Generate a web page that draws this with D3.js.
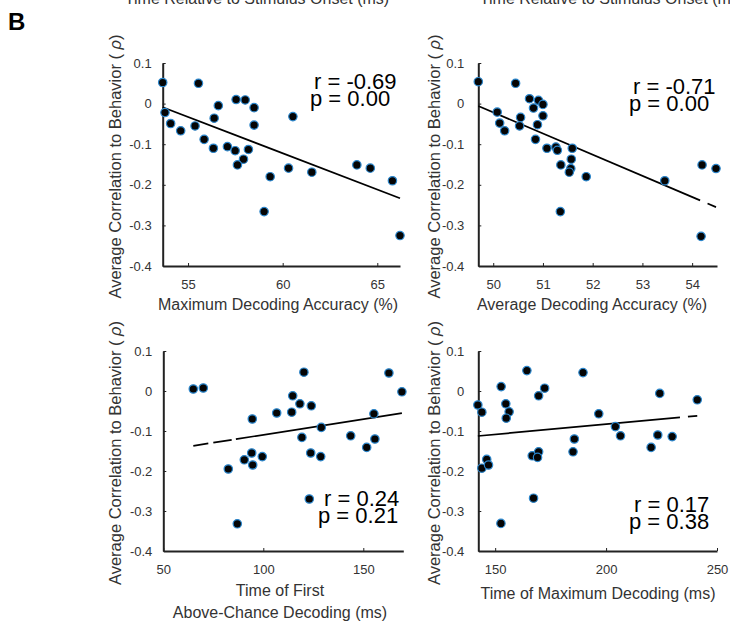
<!DOCTYPE html>
<html>
<head>
<meta charset="utf-8">
<script src="https://cdn.jsdelivr.net/npm/d3@7"></script>
<style>
  body { margin: 0; background: #fff; }
  text { font-family: "Liberation Sans", Arial, sans-serif; }
</style>
</head>
<body>
<div id="chart"></div>
<script>
// values
const yTicks = [0.1, 0, -0.1, -0.2, -0.3, -0.4];

const maxAccTicks = [55, 60, 65];
const maxAccX = [53.66, 55.55, 53.78, 54.08, 54.61, 55.37, 55.85, 56.38, 56.60, 56.34, 57.08, 57.49, 57.54, 58.02,
  58.49, 58.49, 58.19, 57.93, 57.61, 59.34, 59.02, 60.31, 60.54, 61.54, 63.92, 64.63, 65.80, 66.20];
const maxAccY = [0.052, 0.050, -0.022, -0.049, -0.067, -0.055, -0.088, -0.036, -0.005, -0.110, -0.106, -0.116, 0.010, 0.009,
  -0.010, -0.053, -0.113, -0.137, -0.151, -0.180, -0.266, -0.159, -0.032, -0.169, -0.151, -0.159, -0.190, -0.325];
const maxAccFit = [[53.66, -0.009], [66.2, -0.233]];
const maxAccPieces = [[53.66, 66.2]];

const avgAccTicks = [50, 51, 52, 53, 54];
const avgAccX = [49.70, 50.45, 50.08, 50.13, 50.23, 50.55, 50.53, 50.73, 50.81, 50.91, 51.00, 51.00, 50.89, 50.85,
  51.08, 51.26, 51.29, 51.36, 51.59, 51.57, 51.56, 51.53, 51.87, 51.35, 53.45, 54.20, 54.48, 54.18];
const avgAccY = [0.054, 0.050, -0.021, -0.048, -0.067, -0.034, -0.055, 0.012, -0.011, 0.008, -0.002, -0.030, -0.052, -0.088,
  -0.110, -0.107, -0.115, -0.151, -0.110, -0.137, -0.160, -0.169, -0.180, -0.266, -0.190, -0.151, -0.160, -0.327];
const avgAccFit = [[49.7, -0.006], [54.48, -0.255]];
const avgAccPieces = [[49.7, 54.16], [54.31, 54.48]];

const firstTimeTicks = [50, 100, 150];
const firstTimeX = [65.0, 70.0, 82.5, 87.0, 90.5, 94.2, 94.7, 94.5, 99.5, 106.7, 114.2, 114.7, 118.3, 120.3,
  124.0, 119.3, 123.7, 128.7, 129.0, 123.0, 143.7, 151.7, 155.8, 155.3, 162.8, 169.3];
const firstTimeY = [0.005, 0.0075, -0.195, -0.332, -0.172, -0.155, -0.185, -0.070, -0.164, -0.055, -0.053, -0.012, -0.032, 0.047,
  -0.037, -0.116, -0.155, -0.164, -0.091, -0.270, -0.112, -0.141, -0.120, -0.057, 0.045, -0.002];
const firstTimeFit = [[65, -0.137], [169.3, -0.0554]];
const firstTimePieces = [[65, 72.5], [75, 84.2], [86.3, 169.3]];

const maxTimeTicks = [150, 200, 250];
const maxTimeX = [142.2, 144.0, 144.0, 146.2, 147.0, 152.6, 152.7, 154.8, 156.3, 155.0, 164.3, 166.7, 167.3, 169.6,
  169.6, 172.3, 185.1, 185.7, 189.6, 196.7, 204.2, 206.5, 220.3, 223.3, 224.2, 229.8, 241.1, 169.1];
const maxTimeY = [-0.035, -0.053, -0.193, -0.171, -0.185, -0.331, 0.011, -0.032, -0.052, -0.068, 0.051, -0.162, -0.268, -0.152,
  -0.012, 0.007, -0.152, -0.120, 0.046, -0.057, -0.089, -0.112, -0.141, -0.110, -0.006, -0.114, -0.022, -0.166];
const maxTimeFit = [[142.2, -0.1125], [241.1, -0.062]];
const maxTimePieces = [[142.2, 233.3], [236.9, 241.1]];

const rValues = [-0.69, -0.71, 0.24, 0.17];
const pValues = [0.00, 0.00, 0.21, 0.38];

const W = 730, H = 632;

const svg = d3.select("#chart")
    .append("svg")
    .attr("width", W)
    .attr("height", H);

// panel letter and the cut-off titles of the row above
svg.append("text")
    .attr("x", 8).attr("y", 30)
    .attr("font-size", 24).attr("font-weight", "bold")
    .style("font-family", "'Liberation Sans Narrow', 'Liberation Sans', sans-serif")
    .text("B");
svg.append("text").attr("x", 257).attr("y", 4).attr("text-anchor", "middle")
    .attr("font-size", 16).attr("fill", "#333").text("Time Relative to Stimulus Onset (ms)");
svg.append("text").attr("x", 612).attr("y", 4).attr("text-anchor", "middle")
    .attr("font-size", 16).attr("fill", "#333").text("Time Relative to Stimulus Onset (ms)");

const panels = [
    { xs: maxAccX, ys: maxAccY, fit: maxAccFit, pieces: maxAccPieces, ticks: maxAccTicks,
      xDomain: [53.66, 66.2], left: 162.7, right: 400, top: 63, bottom: 266, yPad: 11,
      xLabel: ["Maximum Decoding Accuracy (%)"], xLabelX: 278, xLabelY: 310, yLabelX: 121,
      stat: { rx: 314, px: 310, ry: 89, py: 106 } },
    { xs: avgAccX, ys: avgAccY, fit: avgAccFit, pieces: avgAccPieces, ticks: avgAccTicks,
      xDomain: [49.7, 54.5], left: 478.3, right: 717, top: 63, bottom: 266, yPad: 14,
      xLabel: ["Average Decoding Accuracy (%)"], xLabelX: 592, xLabelY: 310, yLabelX: 440,
      stat: { rx: 633, px: 629, ry: 94, py: 111 } },
    { xs: firstTimeX, ys: firstTimeY, fit: firstTimeFit, pieces: firstTimePieces, ticks: firstTimeTicks,
      xDomain: [50, 170], left: 163.3, right: 403.3, top: 351, bottom: 551, yPad: 11,
      xLabel: ["Time of First", "Above-Chance Decoding (ms)"], xLabelX: 280, xLabelY: 596, yLabelX: 121,
      stat: { rx: 324, px: 318, ry: 506, py: 523 } },
    { xs: maxTimeX, ys: maxTimeY, fit: maxTimeFit, pieces: maxTimePieces, ticks: maxTimeTicks,
      xDomain: [142.4, 250], left: 478.3, right: 717, top: 351, bottom: 551, yPad: 14,
      xLabel: ["Time of Maximum Decoding (ms)"], xLabelX: 598, xLabelY: 599, yLabelX: 440,
      stat: { rx: 634, px: 629, ry: 512, py: 529 } }
];

const fmtY = d => d === 0 ? "0" : String(+d.toFixed(1));
const fmtX = d => String(d);

panels.forEach((p, i) => {
    const x = d3.scaleLinear().domain(p.xDomain).range([p.left, p.right]);
    const y = d3.scaleLinear().domain([-0.4, 0.1]).range([p.bottom, p.top]);
    const g = svg.append("g");

    // X Axis
    const gx = g.append("g")
        .attr("transform", `translate(0,${p.bottom})`)
        .call(d3.axisBottom(x).tickValues(p.ticks).tickFormat(fmtX)
            .tickSizeInner(-3).tickSizeOuter(0).tickPadding(14));
    // Y Axis
    const gy = g.append("g")
        .attr("transform", `translate(${p.left},0)`)
        .call(d3.axisLeft(y).tickValues(yTicks).tickFormat(fmtY)
            .tickSizeInner(-3).tickSizeOuter(0).tickPadding(p.yPad));

    [gx, gy].forEach(a => {
        a.select(".domain").attr("stroke", "#222").attr("stroke-width", 2);
        a.selectAll(".tick line").attr("stroke", "#222").attr("stroke-width", 1);
        a.selectAll(".tick text")
            .attr("fill", "#333")
            .style("font-size", "13px")
            .style("font-family", "'Liberation Sans', Arial, sans-serif");
    });

    // x label
    p.xLabel.forEach((t, k) => {
        g.append("text")
            .attr("x", p.xLabelX)
            .attr("y", p.xLabelY + k * 22)
            .attr("text-anchor", "middle")
            .attr("font-size", 16)
            .attr("fill", "#333")
            .text(t);
    });

    // y label
    const yl = g.append("text")
        .attr("transform", `translate(${p.yLabelX},${(p.top + p.bottom) / 2 + 2}) rotate(-90)`)
        .attr("text-anchor", "middle")
        .attr("font-size", 16.5)
        .attr("fill", "#333");
    yl.append("tspan").text("Average Correlation to Behavior ( ");
    yl.append("tspan").attr("font-style", "italic").text("ρ");
    yl.append("tspan").text(")");

    // fit line, drawn in its visible pieces
    const [[fx0, fy0], [fx1, fy1]] = p.fit;
    const fitY = v => fy0 + (fy1 - fy0) * (v - fx0) / (fx1 - fx0);
    g.selectAll(".fit")
        .data(p.pieces)
        .enter()
        .append("line")
        .attr("x1", d => x(d[0]))
        .attr("y1", d => y(fitY(d[0])))
        .attr("x2", d => x(d[1]))
        .attr("y2", d => y(fitY(d[1])))
        .attr("stroke", "#000")
        .attr("stroke-width", 1.7);

    // points
    g.selectAll("circle")
        .data(p.xs.map((v, k) => [v, p.ys[k]]))
        .enter()
        .append("circle")
        .attr("cx", d => x(d[0]))
        .attr("cy", d => y(d[1]))
        .attr("r", 4.2)
        .attr("fill", "#050505")
        .attr("stroke", "#2b86cc")
        .attr("stroke-width", 1.2);

    // statistics
    g.append("text")
        .attr("x", p.stat.rx).attr("y", p.stat.ry)
        .attr("font-size", 22)
        .text("r = " + rValues[i].toFixed(2));
    g.append("text")
        .attr("x", p.stat.px).attr("y", p.stat.py)
        .attr("font-size", 22)
        .text("p = " + pValues[i].toFixed(2));
});
</script>
</body>
</html>
